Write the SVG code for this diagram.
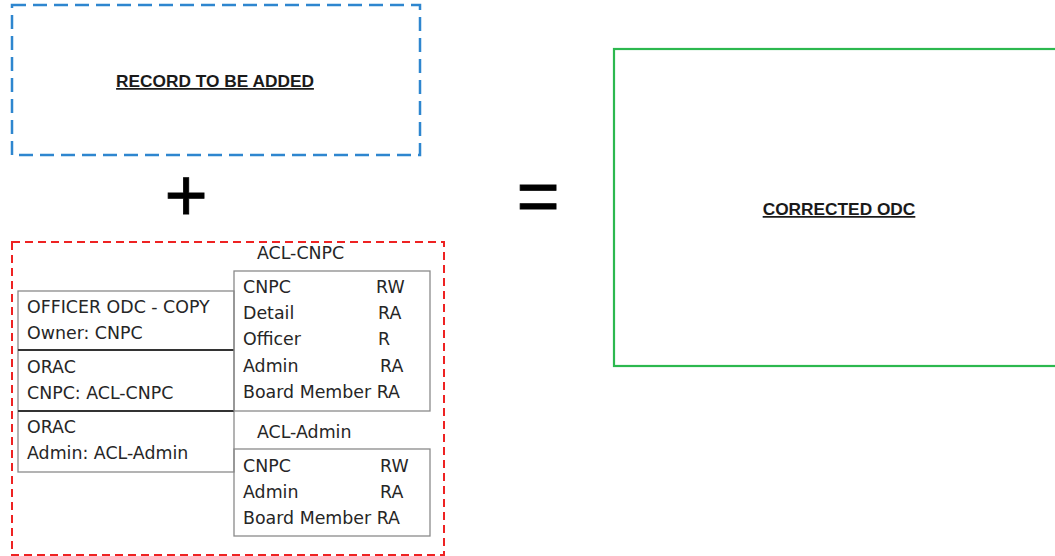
<svg xmlns="http://www.w3.org/2000/svg" width="1055" height="556" viewBox="0 0 1055 556">
<style>
.t{font-family:"DejaVu Sans","Liberation Sans",sans-serif;font-size:17.4px;fill:#262626}
.h{font-family:"Liberation Sans",Arial,sans-serif;font-size:17.3px;font-weight:bold;fill:#1a1a1a;text-decoration:underline}
.op{font-family:"Liberation Sans",Arial,sans-serif;font-size:74px;fill:#000;text-anchor:middle;stroke:#000;stroke-width:0.8}
.cell{fill:none;stroke:#8a8a8a;stroke-width:1.3}
.div{stroke:#333;stroke-width:1.8}
</style>
<rect width="1055" height="556" fill="#fff"/>
<g id="record">
<rect x="12" y="5" width="408" height="150" fill="none" stroke="#2e86cf" stroke-width="2.5" stroke-dasharray="14,7"/>
<text class="h" x="215" y="87" text-anchor="middle">RECORD TO BE ADDED</text>
</g>
<g id="plus"><text class="op" x="186" y="221">+</text></g>
<g id="equals"><text class="op" x="538" y="221">=</text></g>
<g id="corrected">
<rect x="614" y="49" width="450" height="317" fill="none" stroke="#2cb84f" stroke-width="2.2"/>
<text class="h" x="839" y="215" text-anchor="middle">CORRECTED ODC</text>
</g>
<g id="odc-group">
<rect x="12" y="242" width="432" height="313" fill="none" stroke="#ee2222" stroke-width="2" stroke-dasharray="8,5"/>
</g>
<g id="odc-table">
<rect class="cell" x="18" y="291" width="216" height="181"/>
<line class="div" x1="18" y1="350" x2="234" y2="350"/>
<line class="div" x1="18" y1="411" x2="234" y2="411"/>
<text class="t" x="27" y="313">OFFICER ODC - COPY</text>
<text class="t" x="27" y="339">Owner: CNPC</text>
<text class="t" x="27" y="373">ORAC</text>
<text class="t" x="27" y="399">CNPC: ACL-CNPC</text>
<text class="t" x="27" y="433">ORAC</text>
<text class="t" x="27" y="459">Admin: ACL-Admin</text>
</g>
<g id="acl-cnpc">
<text class="t" x="257" y="259">ACL-CNPC</text>
<rect class="cell" x="234" y="271" width="196" height="140"/>
<text class="t" x="243" y="293">CNPC</text><text class="t" x="376" y="293">RW</text>
<text class="t" x="243" y="319">Detail</text><text class="t" x="378" y="319">RA</text>
<text class="t" x="243" y="345">Officer</text><text class="t" x="378" y="345">R</text>
<text class="t" x="243" y="372">Admin</text><text class="t" x="380" y="372">RA</text>
<text class="t" x="243" y="398">Board Member RA</text>
</g>
<g id="acl-admin">
<text class="t" x="257" y="438">ACL-Admin</text>
<rect class="cell" x="234" y="449" width="196" height="87"/>
<text class="t" x="243" y="472">CNPC</text><text class="t" x="380" y="472">RW</text>
<text class="t" x="243" y="498">Admin</text><text class="t" x="380" y="498">RA</text>
<text class="t" x="243" y="524">Board Member RA</text>
</g>
<g id="connectors"></g>
</svg>
